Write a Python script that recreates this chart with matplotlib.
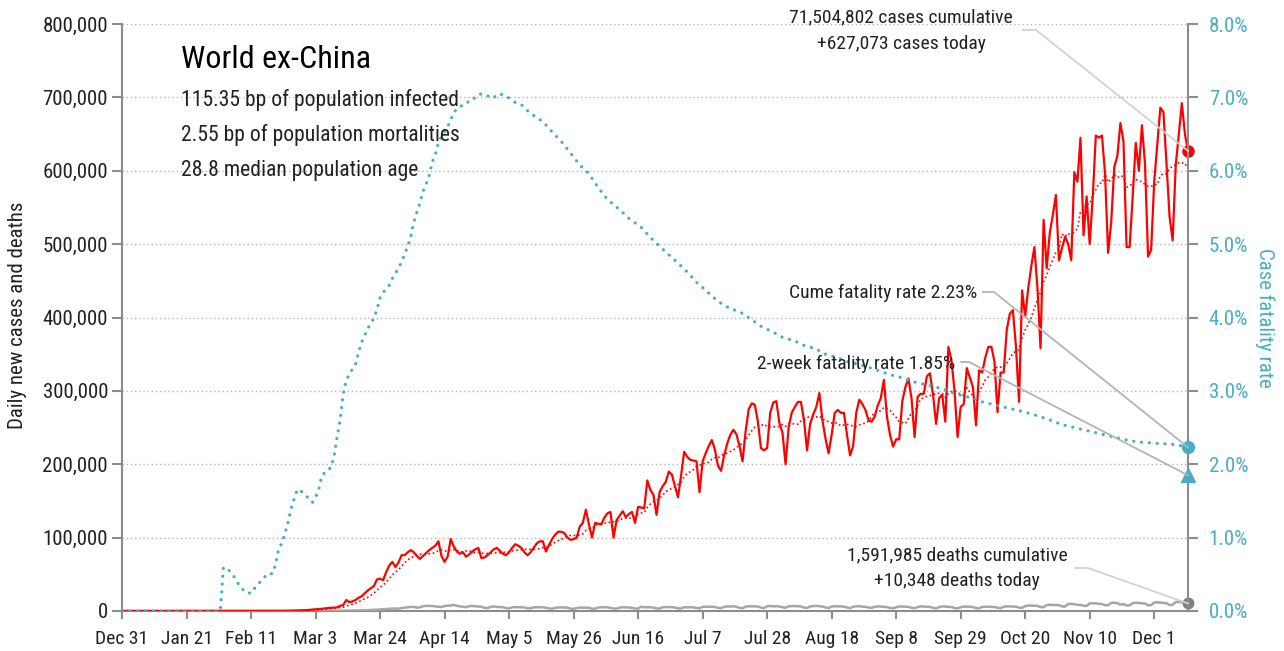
import numpy as np
import pandas as pd
import matplotlib
matplotlib.use("Agg")
import matplotlib.pyplot as plt
import matplotlib.dates as mdates
from matplotlib import font_manager
from matplotlib.lines import Line2D
from matplotlib.ticker import FuncFormatter


def pick_font(names):
    for n in names:
        try:
            font_manager.findfont(n, fallback_to_default=False)
            return n
        except Exception:
            pass
    return "DejaVu Sans"


FONT = pick_font(["Liberation Sans Narrow", "Roboto Condensed", "DejaVu Sans"])
plt.rcParams["font.family"] = [FONT, "DejaVu Sans"]

# daily new cases ex-China, thousands (Dec 31 2019 .. Dec 12 2020)
cases_k = [
    # Dec 31 + Jan
    0, 0, 0, 0, 0, 0, 0, 0, 0, 0, 0, 0, 0, 0, 0, 0, 0, 0, 0, 0,
    0, 0.002, 0.003, 0.005, 0.01, 0.01, 0.012, 0.015, 0.02, 0.02, 0.025, 0.03,
    # Feb
    0.02, 0.02, 0.03, 0.03, 0.04, 0.05, 0.06, 0.07, 0.05, 0.06,
    0.08, 0.06, 0.07, 0.1, 0.1, 0.08, 0.1, 0.12, 0.1, 0.12,
    0.15, 0.2, 0.3, 0.4, 0.5, 0.6, 0.8, 1.0, 1.2,
    # Mar
    1.5, 2.0, 2.3, 2.5, 3.0, 3.5, 4.0, 4.5, 4.5, 5.0,
    7.0, 8.0, 15.0, 12.0, 13.0, 15.0, 18.0, 20.0, 24.0, 28.0,
    31.0, 34.0, 43.0, 44.0, 42.0, 53.0, 62.0, 67.0, 60.0, 66.0, 76.0,
    # Apr
    76, 80, 83, 80, 75, 71, 75, 79, 83, 86,
    89, 95, 75, 67, 74, 98, 88, 81, 78, 80,
    74, 77, 81, 84, 86, 72, 73, 76, 80, 84,
    # May
    86, 82, 78, 76, 80, 86, 91, 89, 86, 80,
    76, 80, 86, 92, 95, 95, 81, 90, 98, 104,
    108, 108, 106, 100, 97, 98, 100, 115, 120, 138, 118,
    # Jun
    100, 120, 119, 118, 127, 133, 135, 100, 124, 130,
    136, 128, 132, 135, 120, 142, 141, 140, 178, 165,
    158, 131, 162, 170, 176, 190, 186, 170, 155, 185,
    # Jul
    217, 210, 206, 205, 204, 162, 204, 215, 225, 233,
    220, 198, 191, 212, 228, 240, 247, 241, 225, 204,
    245, 275, 283, 281, 258, 222, 219, 222, 270, 284, 286,
    # Aug
    256, 243, 200, 250, 270, 278, 285, 285, 260, 219,
    255, 268, 278, 297, 260, 235, 215, 240, 270, 274,
    270, 270, 240, 212, 225, 270, 288, 282, 274, 260, 258,
    # Sep
    265, 280, 290, 315, 265, 240, 224, 234, 234, 286,
    305, 317, 290, 237, 292, 296, 296, 320, 324, 295,
    255, 290, 295, 258, 360, 342, 300, 237, 278, 282,
    # Oct
    331, 318, 305, 253, 328, 325, 345, 360, 360, 340,
    271, 325, 325, 383, 405, 410, 360, 285, 437, 401,
    440, 470, 496, 440, 358, 533, 467, 515, 540, 567, 478,
    # Nov
    495, 510, 500, 478, 598, 585, 645, 512, 565, 500,
    565, 648, 645, 648, 596, 488, 530, 605, 620, 665,
    640, 496, 496, 565, 638, 600, 662, 610, 483, 492,
    # Dec
    585, 636, 686, 680, 610, 537, 505, 607, 650, 692, 650, 627.073,
]

# daily deaths ex-China, thousands
deaths_k = [
    # Dec 31 + Jan
    0, 0, 0, 0, 0, 0, 0, 0, 0, 0, 0, 0, 0, 0, 0, 0, 0, 0, 0, 0,
    0, 0, 0, 0, 0, 0, 0, 0, 0, 0, 0, 0,
    # Feb
    0, 0.001, 0, 0, 0, 0, 0, 0, 0, 0, 0, 0, 0, 0, 0.001, 0, 0, 0, 0.002, 0.002,
    0.004, 0.004, 0.005, 0.007, 0.01, 0.01, 0.012, 0.012, 0.015,
    # Mar
    0.02, 0.02, 0.03, 0.03, 0.04, 0.05, 0.06, 0.07, 0.1, 0.17,
    0.2, 0.25, 0.3, 0.37, 0.42, 0.55, 0.7, 0.85, 0.95, 1.2,
    1.5, 1.6, 1.7, 2.0, 2.3, 2.6, 3.0, 3.3, 3.2, 3.3, 4.0,
    # Apr
    4.6, 5.0, 5.6, 5.5, 4.6, 5.0, 6.5, 7.0, 7.0, 6.8,
    6.2, 5.8, 5.4, 6.8, 7.3, 7.4, 8.4, 7.0, 6.4, 5.8,
    5.2, 6.6, 6.8, 6.5, 6.2, 5.8, 4.3, 4.0, 5.6, 6.3,
    # May
    5.5, 5.4, 5.2, 4.0, 3.5, 5.0, 5.4, 5.2, 5.2, 4.8,
    3.7, 3.6, 5.0, 5.0, 5.2, 4.8, 4.5, 3.6, 3.1, 4.3,
    4.8, 4.9, 4.7, 4.5, 3.3, 2.9, 4.0, 4.6, 4.5, 4.5, 4.4,
    # Jun
    3.1, 3.2, 4.6, 5.3, 5.0, 5.0, 4.3, 3.4, 3.3, 4.7,
    5.1, 5.0, 4.8, 4.3, 3.4, 3.3, 5.8, 5.2, 5.0, 5.2,
    4.5, 3.6, 3.3, 5.2, 5.3, 5.3, 5.3, 4.7, 3.6, 3.5,
    # Jul
    5.2, 4.9, 5.2, 4.9, 4.3, 3.6, 5.6, 6.0, 5.6, 5.8,
    5.5, 4.3, 3.9, 5.6, 6.3, 6.0, 6.5, 5.8, 4.3, 3.8,
    6.0, 6.4, 6.4, 6.4, 6.0, 4.6, 4.0, 6.4, 6.9, 6.3, 6.5,
    # Aug
    6.2, 5.0, 4.4, 6.4, 6.7, 6.7, 6.6, 6.2, 4.7, 4.2,
    6.2, 6.7, 7.0, 6.5, 6.1, 4.9, 4.0, 6.0, 6.5, 6.4,
    6.3, 5.8, 4.8, 3.9, 5.8, 6.4, 6.5, 5.9, 5.7, 4.8, 4.2,
    # Sep
    5.7, 6.2, 6.1, 5.8, 5.4, 4.2, 3.8, 5.0, 6.2, 6.1,
    5.9, 5.6, 4.5, 3.8, 5.3, 6.4, 6.0, 5.7, 5.6, 4.3,
    3.6, 5.3, 6.3, 6.1, 5.6, 5.5, 4.1, 3.6, 5.1, 6.1,
    # Oct
    5.9, 5.9, 5.4, 4.0, 3.6, 5.7, 5.8, 5.9, 5.5, 5.5,
    4.4, 3.9, 5.8, 6.4, 6.2, 6.0, 5.9, 4.6, 4.2, 6.7,
    7.4, 7.4, 7.2, 7.0, 5.4, 5.2, 8.1, 8.5, 8.2, 8.2, 7.9,
    # Nov
    6.3, 6.0, 9.6, 9.6, 9.3, 8.4, 8.3, 7.1, 6.9, 10.4,
    10.5, 10.5, 9.8, 9.5, 7.9, 7.8, 11.1, 11.2, 10.8, 8.6,
    9.4, 7.5, 7.7, 10.9, 11.0, 11.1, 10.4, 10.2, 7.7, 8.0,
    # Dec
    11.5, 11.9, 11.5, 11.0, 10.5, 8.2, 8.5, 12.3, 12.3, 12.0, 11.0, 10.348,
]

# cumulative case fatality rate (%) read at days after Dec 31 2019
cfr_day = [0, 32, 33, 34, 36, 38, 40, 42, 44, 46, 47, 49, 50, 51, 52, 53, 54, 55,
           57, 58, 59, 61, 62, 63, 64, 65, 67, 68, 69, 70, 71, 72, 73, 74, 75,
           76, 77, 78, 80, 81, 82, 83, 84, 85, 87, 88, 89, 90, 91, 92, 93, 94,
           95, 96, 97, 98, 99, 100, 101, 102, 103, 104, 106, 107, 108, 110, 112,
           114, 115, 117, 119, 121, 122, 124, 126, 128, 130, 133, 137, 140, 143,
           146, 149, 152, 155, 158, 162, 165, 169, 172, 176, 180, 184, 187, 190,
           194, 198, 201, 205, 208, 212, 215, 219, 222, 226, 229, 233, 236, 240,
           243, 246, 250, 253, 257, 260, 264, 267, 270, 273, 277, 280, 284, 287,
           291, 294, 298, 301, 304, 307, 311, 314, 318, 321, 325, 328, 332, 335,
           339, 342, 345, 347]
cfr_pct = [0, 0, 0.59, 0.59, 0.50, 0.36, 0.26, 0.24, 0.36, 0.43, 0.50, 0.51, 0.64,
           0.85, 0.92, 1.05, 1.2, 1.39, 1.65, 1.65, 1.6, 1.53, 1.48, 1.55, 1.65,
           1.84, 1.93, 1.95, 2.1, 2.37, 2.6, 2.95, 3.15, 3.22, 3.3, 3.36, 3.52,
           3.66, 3.85, 3.92, 3.99, 4.11, 4.27, 4.34, 4.44, 4.53, 4.6, 4.67, 4.76,
           4.86, 4.97, 5.1, 5.3, 5.44, 5.56, 5.72, 5.82, 5.94, 6.12, 6.22, 6.38,
           6.47, 6.6, 6.69, 6.8, 6.87, 6.93, 6.95, 7.01, 7.05, 7.02, 6.99, 7.04,
           7.04, 6.99, 6.93, 6.9, 6.78, 6.67, 6.53, 6.4, 6.24, 6.08, 5.96, 5.77,
           5.61, 5.47, 5.35, 5.23, 5.09, 4.93, 4.78, 4.62, 4.48, 4.37, 4.22, 4.12,
           4.08, 3.97, 3.88, 3.8, 3.73, 3.68, 3.62, 3.57, 3.5, 3.45, 3.4, 3.36,
           3.32, 3.28, 3.22, 3.19, 3.13, 3.1, 3.06, 3.03, 2.98, 2.94, 2.9, 2.85,
           2.81, 2.78, 2.74, 2.71, 2.66, 2.62, 2.57, 2.53, 2.49, 2.46, 2.42, 2.39,
           2.35, 2.32, 2.3, 2.29, 2.28, 2.27, 2.25, 2.23]
two_week_cfr = 1.85

title = "World ex-China"
info_lines = ["115.35 bp of population infected",
              "2.55 bp of population mortalities",
              "28.8 median population age"]
cases_note = "71,504,802 cases cumulative\n+627,073 cases today"
deaths_note = "1,591,985 deaths cumulative\n+10,348 deaths today"
cume_note = "Cume fatality rate 2.23%"
twoweek_note = "2-week fatality rate 1.85%"

RED = "#ff0000"
TEAL = "#4bacc6"
GREY = "#a6a6a6"
AXIS = "#8c8c8c"
W, H = 1284, 651

dates = pd.date_range("2019-12-31", periods=len(cases_k), freq="D")
cases = pd.Series(cases_k, index=dates) * 1000
deaths = pd.Series(deaths_k, index=dates) * 1000
cases_ma = cases.rolling(7, min_periods=1).mean()
cfr_dates = dates[0] + pd.to_timedelta(cfr_day, unit="D")

fig = plt.figure(figsize=(W / 100, H / 100), dpi=100)
ax = fig.add_axes([122 / W, 40 / H, 1066 / W, 587 / H])
ax2 = ax.twinx()

ax.plot(dates, deaths, color=GREY, lw=1.8, zorder=3)
ax.plot(dates, cases_ma, color=RED, lw=1.2, ls=(0, (1, 1.6)), zorder=4)
ax.plot(dates, cases, color=RED, lw=1.6, zorder=5)
ax.plot(dates[-1], cases.iloc[-1], "o", color=RED, ms=8, clip_on=False, zorder=6)
ax.plot(dates[-1], deaths.iloc[-1], "o", color="#808080", ms=7.5, clip_on=False, zorder=6)

ax2.plot(cfr_dates, cfr_pct, color=TEAL, lw=2.3, ls=(0, (0.05, 2.4)),
         dash_capstyle="round", zorder=3)
ax2.plot(cfr_dates[-1], cfr_pct[-1], "o", color=TEAL, ms=8.5, clip_on=False, zorder=6)
ax2.plot(dates[-1], two_week_cfr, "^", color=TEAL, ms=10, clip_on=False, zorder=6)

ax.set_xlim(dates[0], dates[-1])
ax.set_ylim(0, 800000)
ax2.set_ylim(0, 8)
ax.set_yticks(np.arange(0, 800001, 100000))
ax2.set_yticks(np.arange(0, 8.01, 1))
ax.set_xticks(pd.date_range("2019-12-31", periods=17, freq="21D"))
ax.xaxis.set_major_formatter(FuncFormatter(
    lambda v, p: mdates.num2date(v).strftime("%b ") + str(mdates.num2date(v).day)))
ax.yaxis.set_major_formatter(FuncFormatter(lambda v, p: f"{v:,.0f}"))
ax2.yaxis.set_major_formatter(FuncFormatter(lambda v, p: f"{v:.1f}%"))

ax.grid(axis="y", color="#b4b4b4", ls=(0, (1, 2)), lw=1)
ax.set_axisbelow(True)
for a in (ax, ax2):
    a.spines["top"].set_visible(False)
    for s in ("left", "right", "bottom"):
        a.spines[s].set_color(AXIS)
        a.spines[s].set_linewidth(1.5)
ax.spines["right"].set_visible(False)
ax2.spines["left"].set_visible(False)
ax2.spines["bottom"].set_visible(False)

ax.tick_params(axis="y", length=7, width=1.5, color=AXIS, labelsize=15, labelcolor="#222222", pad=3)
ax.tick_params(axis="x", length=6, width=1.5, color=AXIS, labelsize=14, labelcolor="#222222", pad=8)
ax2.tick_params(axis="y", length=7, width=1.5, color=AXIS, labelsize=15, labelcolor=TEAL, pad=8)


def fpos(x, y):
    return x / W, 1 - y / H


fig.text(*fpos(18, 315), "Daily new cases and deaths", fontsize=15, color="#222222",
         rotation=90, ha="center", va="center")
fig.text(*fpos(1265, 318), "Case fatality rate", fontsize=15, color=TEAL,
         rotation=270, ha="center", va="center")

fig.text(*fpos(181, 60), title, fontsize=23, color="black", va="center", ha="left")
for i, line in enumerate(info_lines):
    fig.text(*fpos(181, 100 + 35 * i), line, fontsize=15.6, color="#222222", va="center", ha="left")

fig.text(*fpos(901, 31), cases_note, fontsize=14, color="#222222", ha="center", va="center",
         linespacing=1.6)
fig.text(*fpos(977, 293), cume_note, fontsize=14, color="#222222", ha="right", va="center")
fig.text(*fpos(955, 364), twoweek_note, fontsize=14, color="#222222", ha="right", va="center")
fig.text(*fpos(957, 568), deaths_note, fontsize=14, color="#222222", ha="center", va="center",
         linespacing=1.55)


def leader(x0, x1, y, target, trans, color):
    tx, ty = fig.transFigure.inverted().transform(trans.transform(target))
    a0 = fpos(x0, y)
    a1 = fpos(x1, y)
    fig.add_artist(Line2D([a0[0], a1[0], tx], [a0[1], a1[1], ty], color=color, lw=1.3,
                          transform=fig.transFigure, zorder=2))


last = mdates.date2num(dates[-1])
leader(1023, 1036, 30, (last, cases.iloc[-1]), ax.transData, "#d2d2d2")
leader(983, 994, 292, (last, cfr_pct[-1]), ax2.transData, "#b4b4b4")
leader(961, 969, 362, (last, two_week_cfr), ax2.transData, "#b4b4b4")
leader(1075, 1088, 568, (last, deaths.iloc[-1]), ax.transData, "#d2d2d2")

fig.savefig("out.png", dpi=100)
